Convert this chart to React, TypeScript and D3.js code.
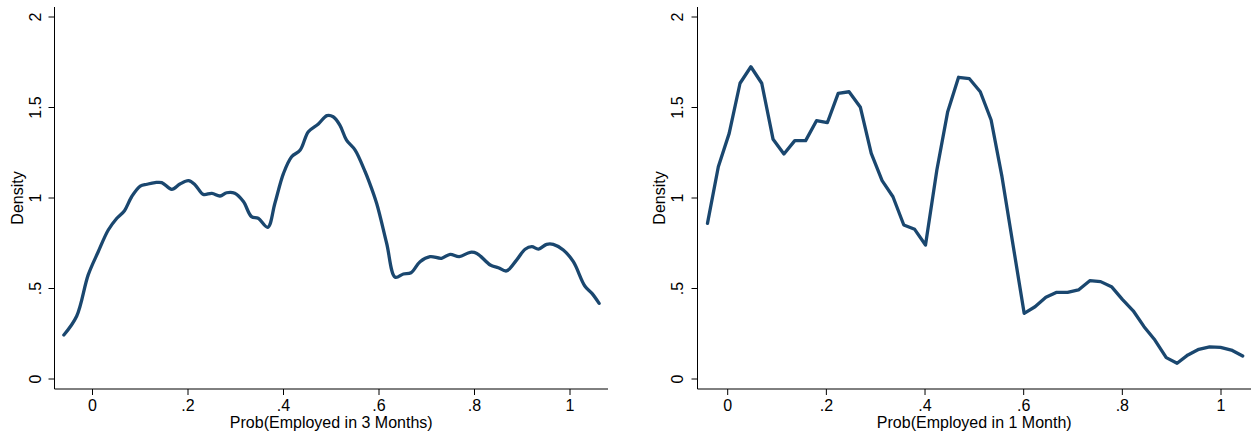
import React from "react";
import * as d3 from "d3";

// Kernel density estimates of predicted employment probabilities
const threeMonthX = [
  -0.060, -0.033, -0.009, 0.012, 0.033, 0.051, 0.067, 0.082, 0.100, 0.114,
  0.131, 0.145, 0.166, 0.183, 0.201, 0.215, 0.232, 0.250, 0.267, 0.281,
  0.298, 0.316, 0.333, 0.347, 0.367, 0.382, 0.400, 0.417, 0.435, 0.452,
  0.473, 0.491, 0.504, 0.518, 0.532, 0.550, 0.571, 0.578, 0.595, 0.616,
  0.634, 0.651, 0.667, 0.686, 0.707, 0.731, 0.749, 0.768, 0.791, 0.805,
  0.833, 0.850, 0.867, 0.888, 0.906, 0.920, 0.934, 0.951, 0.965, 0.986,
  1.007, 1.031, 1.046, 1.061,
];
const threeMonthDensity = [
  0.243, 0.348, 0.575, 0.703, 0.823, 0.888, 0.930, 1.007, 1.066, 1.076,
  1.085, 1.085, 1.048, 1.077, 1.096, 1.072, 1.020, 1.026, 1.011, 1.029,
  1.026, 0.980, 0.897, 0.888, 0.838, 0.971, 1.136, 1.228, 1.265, 1.366,
  1.409, 1.455, 1.449, 1.403, 1.320, 1.265, 1.145, 1.099, 0.971, 0.750,
  0.562, 0.580, 0.587, 0.648, 0.676, 0.667, 0.689, 0.676, 0.700, 0.694,
  0.630, 0.615, 0.597, 0.657, 0.717, 0.731, 0.718, 0.744, 0.744, 0.713,
  0.648, 0.514, 0.473, 0.418,
];

const oneMonthX = [
  -0.041, -0.019, 0.003, 0.025, 0.047, 0.069, 0.092, 0.114, 0.136, 0.158,
  0.180, 0.202, 0.224, 0.246, 0.269, 0.291, 0.313, 0.335, 0.357, 0.379,
  0.401, 0.424, 0.446, 0.468, 0.490, 0.512, 0.534, 0.556, 0.579, 0.601,
  0.623, 0.645, 0.667, 0.689, 0.711, 0.734, 0.756, 0.778, 0.800, 0.822,
  0.844, 0.866, 0.889, 0.911, 0.933, 0.955, 0.977, 0.999, 1.021, 1.044,
];
const oneMonthDensity = [
  0.860, 1.173, 1.357, 1.634, 1.725, 1.634, 1.324, 1.243, 1.317, 1.317,
  1.427, 1.416, 1.578, 1.587, 1.501, 1.247, 1.096, 1.007, 0.851, 0.827,
  0.740, 1.155, 1.477, 1.667, 1.659, 1.587, 1.431, 1.118, 0.731, 0.363,
  0.399, 0.451, 0.479, 0.479, 0.492, 0.543, 0.538, 0.510, 0.440, 0.377,
  0.289, 0.215, 0.118, 0.087, 0.133, 0.164, 0.178, 0.175, 0.160, 0.127,
];

const xTickValues = [0, 0.2, 0.4, 0.6, 0.8, 1];
const xTickLabels = ["0", ".2", ".4", ".6", ".8", "1"];
const yTickValues = [0, 0.5, 1, 1.5, 2];
const yTickLabels = ["0", ".5", "1", "1.5", "2"];

const yAxisTitle = "Density";
const leftTitle = "Prob(Employed in 3 Months)";
const rightTitle = "Prob(Employed in 1 Month)";

const W = 1251;
const H = 435;
const FONT = "'Liberation Sans', Arial, Helvetica, sans-serif";
const LINE_COLOR = "#1a476f";

type PanelProps = {
  xs: number[];
  ys: number[];
  title: string;
  axisLeft: number;
  axisRight: number;
  x0: number; // pixel of x = 0
  x1: number; // pixel of x = 1
  yTickLabelX: number;
  yTitleX: number;
  smooth: boolean;
};

function Panel({ xs, ys, title, axisLeft, axisRight, x0, x1, yTickLabelX, yTitleX, smooth }: PanelProps) {
  const x = d3.scaleLinear().domain([0, 1]).range([x0, x1]);
  const y = d3.scaleLinear().domain([0, 2]).range([379, 17]);
  const axisTop = 7;
  const axisBottom = 389;

  const pts: [number, number][] = xs.map((v, i) => [v, ys[i]]);
  const path = d3
    .line<[number, number]>()
    .x((d) => x(d[0]))
    .y((d) => y(d[1]))
    .curve(smooth ? d3.curveCatmullRom.alpha(0.5) : d3.curveLinear)(pts);

  return (
    <g>
      {/* y axis */}
      <line x1={axisLeft} x2={axisLeft} y1={axisTop} y2={axisBottom} stroke="#000" strokeWidth={1} />
      {yTickValues.map((v, i) => (
        <g key={"y" + i}>
          <line x1={axisLeft - 6} x2={axisLeft} y1={y(v)} y2={y(v)} stroke="#000" strokeWidth={1} />
          <text
            transform={`translate(${yTickLabelX},${y(v)}) rotate(-90)`}
            textAnchor="middle"
            fontFamily={FONT}
            fontSize={16}
            fill="#000"
          >
            {yTickLabels[i]}
          </text>
        </g>
      ))}
      <text
        transform={`translate(${yTitleX},${y(1)}) rotate(-90)`}
        textAnchor="middle"
        fontFamily={FONT}
        fontSize={16}
        fill="#000"
      >
        {yAxisTitle}
      </text>

      {/* x axis */}
      <line x1={axisLeft} x2={axisRight} y1={axisBottom} y2={axisBottom} stroke="#000" strokeWidth={1} />
      {xTickValues.map((v, i) => (
        <g key={"x" + i}>
          <line x1={x(v)} x2={x(v)} y1={axisBottom} y2={axisBottom + 6} stroke="#000" strokeWidth={1} />
          <text x={x(v)} y={410.5} textAnchor="middle" fontFamily={FONT} fontSize={16} fill="#000">
            {xTickLabels[i]}
          </text>
        </g>
      ))}
      <text
        x={(axisLeft + axisRight) / 2}
        y={428}
        textAnchor="middle"
        fontFamily={FONT}
        fontSize={16}
        fill="#000"
      >
        {title}
      </text>

      {/* density curve */}
      <path
        d={path ?? ""}
        fill="none"
        stroke={LINE_COLOR}
        strokeWidth={3.3}
        strokeLinejoin="round"
        strokeLinecap="round"
      />
    </g>
  );
}

export default function App() {
  return (
    <svg
      width={W}
      height={H}
      viewBox={`0 0 ${W} ${H}`}
      style={{ position: "absolute", left: 0, top: 0, background: "#fff", display: "block" }}
    >
      <rect x={0} y={0} width={W} height={H} fill="#fff" />
      <Panel
        xs={threeMonthX}
        ys={threeMonthDensity}
        title={leftTitle}
        axisLeft={54.5}
        axisRight={608}
        x0={92.5}
        x1={570}
        yTickLabelX={40.5}
        yTitleX={22.5}
        smooth={true}
      />
      <Panel
        xs={oneMonthX}
        ys={oneMonthDensity}
        title={rightTitle}
        axisLeft={697.5}
        axisRight={1251}
        x0={727.7}
        x1={1221}
        yTickLabelX={683}
        yTitleX={665}
        smooth={false}
      />
    </svg>
  );
}
